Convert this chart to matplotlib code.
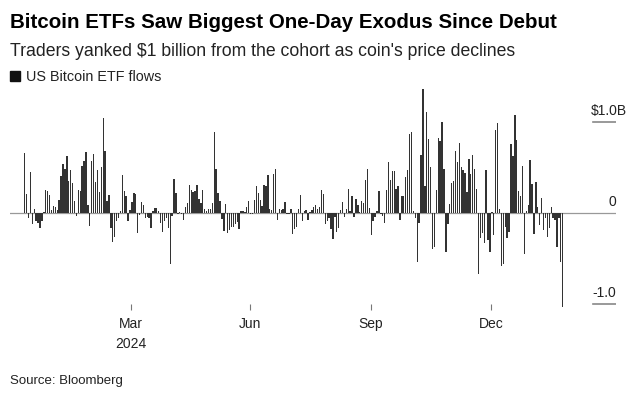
import matplotlib
matplotlib.use("Agg")
import matplotlib.pyplot as plt
import matplotlib.transforms as mtransforms
from matplotlib.patches import Rectangle
import numpy as np

plt.rcParams['font.family'] = ['Liberation Sans', 'DejaVu Sans']

# daily US bitcoin ETF net flows, $ billions (one bar per trading day)
flows_bn = [
    0.66, 0.21, -0.05, 0.45, -0.12, 0.05, -0.09, -0.11, -0.16, -0.08, 0.015, 0.26,
    0.25, 0.20, 0.04, 0.08, 0.07, 0.04, 0.15, 0.41, 0.54, 0.49, 0.63, 0.35,
    0.48, 0.33, 0.14, -0.03, 0.26, 0.24, 0.52, 0.58, 0.67, 0.09, -0.14, 0.57,
    0.65, 0.34, 0.48, 0.23, 0.51, 1.05, 0.69, 0.14, 0.20, -0.16, -0.32,
    -0.26, -0.09, -0.05, 0.02, 0.42, 0.25, 0.19, -0.08, 0.04, 0.12, 0.22, 0.21,
    -0.22, -0.02, 0.12, 0.09, -0.05, -0.04, -0.05, -0.16, 0.02, 0.06, 0.06, 0.03,
    -0.11, -0.21, -0.08, -0.05, -0.16, -0.56, -0.03, 0.38, 0.22, -0.01, 0.015, -0.01,
    -0.07, 0.07, 0.11, 0.31, 0.26, 0.23, 0.25, 0.31, 0.16, 0.11, 0.26, 0.05,
    0.03, 0.05, 0.05, 0.11, 0.89, 0.49, 0.22, 0.14, -0.06, -0.19, 0.10, -0.22,
    -0.18, -0.15, -0.15, -0.12, -0.10, -0.17, 0.03, 0.03, 0.015, 0.07, 0.13, -0.01,
    -0.01, 0.15, 0.30, 0.22, 0.15, 0.08, 0.31, 0.30, 0.42, 0.05, 0.04, 0.43,
    0.49, -0.07, 0.05, 0.04, 0.05, 0.12, -0.01, -0.01, 0.05, -0.23, -0.17, -0.15,
    0.05, 0.20, -0.08, 0.03, 0.04, -0.07, 0.015, 0.04, 0.07, 0.09, 0.05, 0.07,
    0.26, 0.21, -0.12, -0.08, -0.05, -0.17, -0.28, -0.04, -0.20, -0.16, 0.04, 0.12,
    -0.04, 0.05, 0.27, 0.02, 0.19, -0.04, 0.16, 0.09, 0.015, 0.14, 0.11, 0.37,
    0.49, 0.06, -0.24, -0.08, -0.04, 0.03, 0.24, -0.01, -0.03, -0.11, 0.26, 0.56, 0.37,
    0.46, 0.47, 0.27, 0.30, -0.07, 0.19, 0.19, 0.40, 0.48, 0.87, 0.89, 0.03,
    -0.05, -0.53, -0.11, 0.64, 1.37, 0.30, 1.11, 0.82, 0.51, -0.39, -0.37, 0.26,
    0.83, 0.79, 1.00, 0.49, -0.43, -0.12, 0.10, 0.33, 0.36, 0.68, 0.56, 0.77,
    0.51, 0.48, 0.44, 0.23, 0.60, 0.43, 0.64, 0.49, 0.27, -0.67, -0.27, -0.22,
    -0.33, 0.48, -0.29, -0.42, 0.015, -0.24, 0.92, 0.99, 0.05, -0.58, -0.56, -0.15,
    -0.27, -0.20, 0.76, 0.63, 1.08, 0.81, 0.25, 0.19, 0.52, -0.45, 0.02, 0.09,
    0.59, 0.32, -0.23, 0.34, 0.07, -0.13, 0.17, -0.18, -0.05, -0.26, -0.16, 0.07,
    -0.05, -0.07, -0.37, -0.05, -0.53, -1.03,
]

# month ticks, as positions in trading-day index
month_pos = [55.5, 117.7, 180.9, 243.8]
month_labels = ["Mar\n2024", "Jun", "Sep", "Dec"]

y_levels = [1.0, 0.0, -1.0]
y_labels = ["$1.0B", "0", "-1.0"]

W, H = 642, 394
fig = plt.figure(figsize=(W / 100, H / 100), dpi=100)

def fx(px):
    return px / W

def fy(py):
    return 1 - py / H

# plot area in pixels
left, right, top, bottom = 10, 616, 85, 309.5
ax = fig.add_axes([fx(left), fy(bottom), (right - left) / W, (bottom - top) / H])

x = np.arange(len(flows_bn))
ax.bar(x, flows_bn, width=0.72, color="#333333", linewidth=0)

step = (562.7 - 24.7) / (len(flows_bn) - 1)
ax.set_xlim(-(24.7 - left) / step, len(flows_bn) - 1 + (right - 562.7) / step)
zero_py, px_per_bn = 213.3, 91.0
ax.set_ylim(-(bottom - zero_py) / px_per_bn, (zero_py - top) / px_per_bn)

for s in ax.spines.values():
    s.set_visible(False)
ax.set_yticks([])
ax.set_xticks(month_pos)
ax.set_xticklabels(month_labels, fontsize=10, color="#222222", linespacing=1.55)
ax.tick_params(axis="x", direction="in", length=4, width=0.8, color="#777777", pad=5.5)

# zero line and the short right-hand gridlines
ax.axhline(0, color="#999999", lw=0.9, zorder=0)
gx0 = (593 - left) / (right - left)
for lev in y_levels:
    if lev != 0:
        ax.axhline(lev, xmin=gx0, xmax=1, color="#888888", lw=1.2)

trans = mtransforms.blended_transform_factory(ax.transAxes, ax.transData)
for lev, lab in zip(y_levels, y_labels):
    if lab.startswith("$"):
        ax.annotate(lab, xy=(gx0 - 2 / (right - left), lev), xycoords=trans,
                    xytext=(0, 5.5), textcoords="offset points",
                    ha="left", va="baseline", fontsize=10, color="#222222")
    else:
        ax.annotate(lab, xy=(1.0, lev), xycoords=trans,
                    xytext=(0, 5.5), textcoords="offset points",
                    ha="right", va="baseline", fontsize=10, color="#222222")

# header texts
fig.text(fx(10), fy(27.5), "Bitcoin ETFs Saw Biggest One-Day Exodus Since Debut",
         fontsize=14.8, fontweight="bold", color="#000000", va="baseline")
fig.text(fx(10), fy(56), "Traders yanked $1 billion from the cohort as coin's price declines",
         fontsize=12.7, color="#222222", va="baseline")
fig.patches.append(Rectangle((fx(10.5), fy(81)), 9.5 / W, 9.5 / H,
                             transform=fig.transFigure, color="#111111"))
fig.text(fx(26), fy(81), "US Bitcoin ETF flows", fontsize=10.4, color="#222222", va="baseline")
fig.text(fx(10), fy(384), "Source: Bloomberg", fontsize=9.5, color="#222222", va="baseline")

fig.savefig("out.png", dpi=100)
